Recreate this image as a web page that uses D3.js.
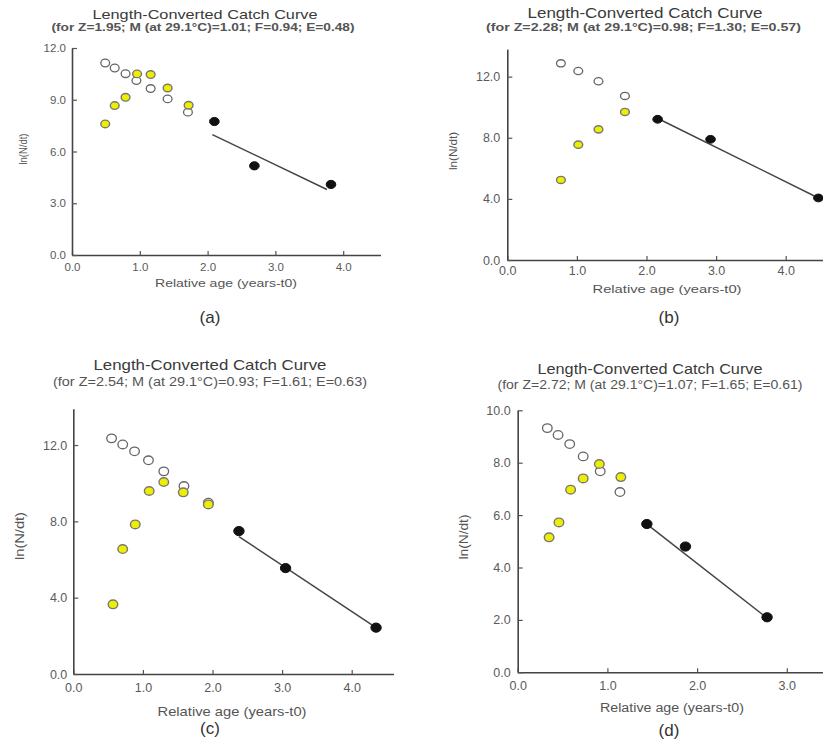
<!DOCTYPE html>
<html><head><meta charset="utf-8">
<script src="https://cdn.jsdelivr.net/npm/d3@7"></script>
<style>
html,body{margin:0;padding:0;background:#fff;}
svg{display:block;}
text{font-family:"Liberation Sans",Arial,sans-serif;}
</style></head>
<body>
<svg id="chart" width="823" height="752"></svg>
<script>
// ---------- DATA ----------
const titleText = "Length-Converted Catch Curve";
const subtitles = [
  "(for Z=1.95; M (at 29.1\u00b0C)=1.01; F=0.94; E=0.48)",
  "(for Z=2.28; M (at 29.1\u00b0C)=0.98; F=1.30; E=0.57)",
  "(for Z=2.54; M (at 29.1\u00b0C)=0.93; F=1.61; E=0.63)",
  "(for Z=2.72; M (at 29.1\u00b0C)=1.07; F=1.65; E=0.61)"
];
const captions = ["(a)", "(b)", "(c)", "(d)"];
const xAxisLabel = "Relative age (years-t0)";
const yAxisLabel = "ln(N/dt)";

// panel (a)
const aXTicks = [0, 1, 2, 3, 4];
const aYTicks = [0, 3, 6, 9, 12];
const aOpenAge = [0.49, 0.63, 0.79, 0.95, 1.16, 1.41, 1.71];
const aOpenLn  = [11.13, 10.84, 10.51, 10.11, 9.65, 9.05, 8.28];
const aYellowAge = [0.49, 0.63, 0.79, 0.96, 1.16, 1.41, 1.72];
const aYellowLn  = [7.60, 8.66, 9.14, 10.50, 10.46, 9.68, 8.68];
const aFitAge = [2.10, 2.69, 3.82];
const aFitLn  = [7.74, 5.17, 4.09];
const aLineAge = [2.07, 3.76];
const aLineLn  = [6.98, 3.80];

// panel (b)
const bXTicks = [0, 1, 2, 3, 4];
const bYTicks = [0, 4, 8, 12];
const bOpenAge = [0.77, 1.02, 1.31, 1.69];
const bOpenLn  = [12.87, 12.37, 11.70, 10.74];
const bYellowAge = [0.77, 1.02, 1.31, 1.69];
const bYellowLn  = [5.24, 7.55, 8.55, 9.69];
const bFitAge = [2.16, 2.92, 4.47];
const bFitLn  = [9.21, 7.90, 4.06];
const bLineAge = [2.20, 4.47];
const bLineLn  = [9.18, 4.06];

// panel (c)
const cXTicks = [0, 1, 2, 3, 4];
const cYTicks = [0, 4, 8, 12];
const cOpenAge = [0.55, 0.71, 0.88, 1.08, 1.30, 1.59, 1.94];
const cOpenLn  = [12.35, 12.03, 11.67, 11.20, 10.62, 9.85, 8.98];
const cYellowAge = [0.57, 0.71, 0.89, 1.09, 1.30, 1.58, 1.94];
const cYellowLn  = [3.65, 6.55, 7.84, 9.59, 10.06, 9.52, 8.89];
const cFitAge = [2.38, 3.05, 4.35];
const cFitLn  = [7.49, 5.55, 2.43];
const cLineAge = [2.38, 4.35];
const cLineLn  = [7.20, 2.43];

// panel (d)
const dXTicks = [0, 1, 2, 3];
const dYTicks = [0, 2, 4, 6, 8, 10];
const dOpenAge = [0.33, 0.45, 0.58, 0.73, 0.92, 1.14];
const dOpenLn  = [9.32, 9.06, 8.71, 8.24, 7.67, 6.88];
const dYellowAge = [0.35, 0.46, 0.59, 0.73, 0.91, 1.15];
const dYellowLn  = [5.15, 5.72, 6.97, 7.40, 7.95, 7.45];
const dFitAge = [1.44, 1.87, 2.78];
const dFitLn  = [5.66, 4.80, 2.10];
const dLineAge = [1.45, 2.77];
const dLineLn  = [5.63, 2.10];

// ---------- LAYOUT ----------
const panels = [
  { xTicks:aXTicks, yTicks:aYTicks, open:[aOpenAge,aOpenLn], yellow:[aYellowAge,aYellowLn], fit:[aFitAge,aFitLn], line:[aLineAge,aLineLn],
    x0:72, xUnit:67.8, xMax:4.55, y0:255, yUnit:17.25, yMax:12,
    rx:4.4, ry:3.8, tickFs:11.5, xLabOff:12, yLabPad:6,
    title:{x:205, y:19, fs:13, len:225, fw:400}, sub:{x:203, y:31, fs:10, len:303, fw:600},
    xlab:{x:226, y:283, fs:10.5, len:142}, ylab:{x:23, y:149, fs:11, len:31},
    cap:{x:210, y:317, fs:17} },
  { xTicks:bXTicks, yTicks:bYTicks, open:[bOpenAge,bOpenLn], yellow:[bYellowAge,bYellowLn], fit:[bFitAge,bFitLn], line:[bLineAge,bLineLn],
    x0:507.3, xUnit:69.6, xMax:4.6, y0:260, yUnit:15.28, yMax:13.8,
    rx:4.4, ry:3.6, tickFs:12.5, xLabOff:11, yLabPad:7,
    title:{x:645, y:18, fs:14.5, len:235, fw:400}, sub:{x:643.5, y:31, fs:11.5, len:315, fw:600},
    xlab:{x:667, y:289, fs:11.5, len:149}, ylab:{x:453, y:151, fs:11.5, len:38},
    cap:{x:669, y:317, fs:17} },
  { xTicks:cXTicks, yTicks:cYTicks, open:[cOpenAge,cOpenLn], yellow:[cYellowAge,cYellowLn], fit:[cFitAge,cFitLn], line:[cLineAge,cLineLn],
    x0:73.3, xUnit:69.6, xMax:4.6, y0:674, yUnit:19.08, yMax:13.9,
    rx:4.8, ry:4.3, tickFs:12.5, xLabOff:14, yLabPad:6,
    title:{x:210, y:370, fs:15, len:233, fw:400}, sub:{x:210, y:386, fs:12.5, len:314, fw:400},
    xlab:{x:232, y:711, fs:13, len:149}, ylab:{x:19, y:536, fs:13, len:48},
    cap:{x:210, y:728, fs:17} },
  { xTicks:dXTicks, yTicks:dYTicks, open:[dOpenAge,dOpenLn], yellow:[dYellowAge,dYellowLn], fit:[dFitAge,dFitLn], line:[dLineAge,dLineLn],
    x0:517.7, xUnit:89.7, xMax:3.5, y0:672.3, yUnit:26.2, yMax:10,
    rx:4.8, ry:4.3, tickFs:12.5, xLabOff:13, yLabPad:7,
    title:{x:650, y:374, fs:15, len:225, fw:400}, sub:{x:650, y:389, fs:12.5, len:305, fw:400},
    xlab:{x:672, y:708, fs:12.5, len:144}, ylab:{x:464, y:537, fs:12.5, len:45},
    cap:{x:669, y:730, fs:17} }
];

const svg = d3.select("#chart");
const fmt = d3.format(".1f");

function zipPts(arr) { return arr[0].map((v, i) => [v, arr[1][i]]); }

panels.forEach((p, i) => {
  const g = svg.append("g");
  const x = d3.scaleLinear().domain([0, p.xMax]).range([p.x0, p.x0 + p.xMax * p.xUnit]);
  const y = d3.scaleLinear().domain([0, p.yMax]).range([p.y0, p.y0 - p.yMax * p.yUnit]);

  // titles
  g.append("text").attr("x", p.title.x).attr("y", p.title.y).attr("text-anchor", "middle")
    .attr("font-size", p.title.fs).attr("font-weight", p.title.fw).attr("fill", "#3a3a3a")
    .attr("textLength", p.title.len).attr("lengthAdjust", "spacingAndGlyphs").text(titleText);
  g.append("text").attr("x", p.sub.x).attr("y", p.sub.y).attr("text-anchor", "middle")
    .attr("font-size", p.sub.fs).attr("font-weight", p.sub.fw).attr("fill", "#555")
    .attr("textLength", p.sub.len).attr("lengthAdjust", "spacingAndGlyphs").text(subtitles[i]);

  // axes
  const xAxis = d3.axisBottom(x).tickValues(p.xTicks).tickFormat(fmt).tickSizeInner(-4).tickSizeOuter(0);
  const yAxis = d3.axisLeft(y).tickValues(p.yTicks).tickFormat(fmt).tickSizeInner(-5).tickSizeOuter(0).tickPadding(p.yLabPad);
  const gx = g.append("g").attr("transform", `translate(0,${p.y0})`).call(xAxis);
  const gy = g.append("g").attr("transform", `translate(${p.x0},0)`).call(yAxis);
  [gx, gy].forEach(ax => {
    ax.select(".domain").attr("stroke", "#444").attr("stroke-width", 1.6);
    ax.selectAll(".tick line").attr("stroke", "#555").attr("stroke-width", 1.2);
    ax.selectAll(".tick text").attr("font-size", p.tickFs).attr("fill", "#5a5a5a")
      .attr("font-family", "'Liberation Sans', Arial, sans-serif");
  });
  gx.selectAll(".tick text").attr("y", p.xLabOff).attr("dy", "0.35em");

  // axis labels
  g.append("text").attr("x", p.xlab.x).attr("y", p.xlab.y).attr("dy", "0.35em").attr("text-anchor", "middle")
    .attr("font-size", p.xlab.fs).attr("fill", "#555")
    .attr("textLength", p.xlab.len).attr("lengthAdjust", "spacingAndGlyphs").text(xAxisLabel);
  g.append("text").attr("transform", `translate(${p.ylab.x},${p.ylab.y}) rotate(-90)`).attr("dy", "0.35em")
    .attr("text-anchor", "middle").attr("font-size", p.ylab.fs).attr("fill", "#555")
    .attr("textLength", p.ylab.len).attr("lengthAdjust", "spacingAndGlyphs").text(yAxisLabel);

  // regression line
  g.append("path").datum(zipPts(p.line))
    .attr("d", d3.line().x(d => x(d[0])).y(d => y(d[1])))
    .attr("fill", "none").attr("stroke", "#444").attr("stroke-width", 1.5);

  // points
  g.selectAll(".open").data(zipPts(p.open)).join("ellipse")
    .attr("cx", d => x(d[0])).attr("cy", d => y(d[1])).attr("rx", p.rx).attr("ry", p.ry)
    .attr("fill", "#fff").attr("stroke", "#666").attr("stroke-width", 1.3);
  g.selectAll(".yel").data(zipPts(p.yellow)).join("ellipse")
    .attr("cx", d => x(d[0])).attr("cy", d => y(d[1])).attr("rx", p.rx).attr("ry", p.ry)
    .attr("fill", "#eeee00").attr("stroke", "#777").attr("stroke-width", 1.4);
  g.selectAll(".fit").data(zipPts(p.fit)).join("ellipse")
    .attr("cx", d => x(d[0])).attr("cy", d => y(d[1])).attr("rx", p.rx + 0.4).attr("ry", p.ry + 0.3)
    .attr("fill", "#111").attr("stroke", "#111").attr("stroke-width", 1);

  // caption
  g.append("text").attr("x", p.cap.x).attr("y", p.cap.y).attr("dy", "0.35em").attr("text-anchor", "middle")
    .attr("font-family", "Roboto, 'Noto Sans', sans-serif").attr("font-weight", 300)
    .attr("font-size", p.cap.fs).attr("fill", "#333").text(captions[i]);
});
</script>
</body></html>
